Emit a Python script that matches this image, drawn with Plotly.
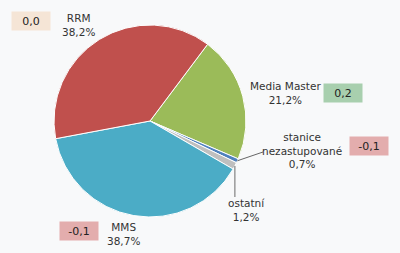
import math
import plotly.graph_objects as go

# data
labels = ["Media Master", "stanice nezastupované", "ostatní", "MMS", "RRM"]
label_text = ["Media Master<br>21,2%", "stanice<br>nezastupované<br>0,7%", "ostatní<br>1,2%", "MMS<br>38,7%", "RRM<br>38,2%"]
values = [21.2, 0.7, 1.2, 38.7, 38.2]
changes = ["0,2", "-0,1", None, "-0,1", "0,0"]
colors = ["#9bbb59", "#4f81bd", "#bfbfbf", "#4bacc6", "#c0504d"]
change_colors = {"0,2": "#a8cfae", "-0,1": "#e3adad", "0,0": "#f5e5d6"}

W, H = 400, 253
def px(x):
    return x / W
def py(y):
    return 1 - y / H

cx, cy, r = 150, 121, 96
rotation = 36.9

fig = go.Figure(go.Pie(
    labels=labels, values=values, sort=False, direction="clockwise",
    rotation=rotation, marker=dict(colors=colors, line=dict(color="white", width=1)),
    textinfo="none", hoverinfo="label+percent", showlegend=False,
    domain=dict(x=[px(cx - r), px(cx + r)], y=[py(cy + r), py(cy - r)]),
))

font = dict(family="DejaVu Sans", size=10.5, color="#333333")

# label positions (layout)
label_pos = [(285, 93), (302, 150), (246, 210), (123, 234), (78, 25)]
box_pos = [(343, 93), (369, 146), None, (79, 231), (31, 21)]

ann = []
for i, lab in enumerate(label_text):
    x, y = label_pos[i]
    ann.append(dict(x=px(x), y=py(y), xref="paper", yref="paper", text=lab,
                    xanchor="center", yanchor="middle",
                    showarrow=False, font=font, align="center"))
    if changes[i] is not None:
        bx, by = box_pos[i]
        ann.append(dict(x=px(bx), y=py(by), xref="paper", yref="paper", text=changes[i],
                        xanchor="center", yanchor="middle",
                        showarrow=False, font=dict(family="DejaVu Sans", size=11, color="#222222"),
                        bgcolor=change_colors[changes[i]], width=36, height=16, borderpad=1))

# leader lines from slice mid-angles
total = sum(values)
cum = 0
mids = []
for v in values:
    mids.append(rotation + (cum + v / 2) / total * 360)
    cum += v

shapes = []
def edge(angle_deg, rad):
    a = math.radians(angle_deg)
    return cx + rad * math.sin(a), cy - rad * math.cos(a)

sx, sy = edge(mids[1], r)
shapes.append(dict(type="line", xref="paper", yref="paper", x0=px(sx), y0=py(sy),
                   x1=px(263), y1=py(152), line=dict(color="#666666", width=1)))
ox, oy = edge(mids[2], r)
shapes.append(dict(type="line", xref="paper", yref="paper", x0=px(ox), y0=py(oy),
                   x1=px(ox), y1=py(197), line=dict(color="#999999", width=1.5)))

fig.update_layout(width=W, height=H, margin=dict(l=0, r=0, t=0, b=0),
                  paper_bgcolor="#f8f9fa", plot_bgcolor="#f8f9fa",
                  annotations=ann, shapes=shapes)
fig.write_html("out.html")
